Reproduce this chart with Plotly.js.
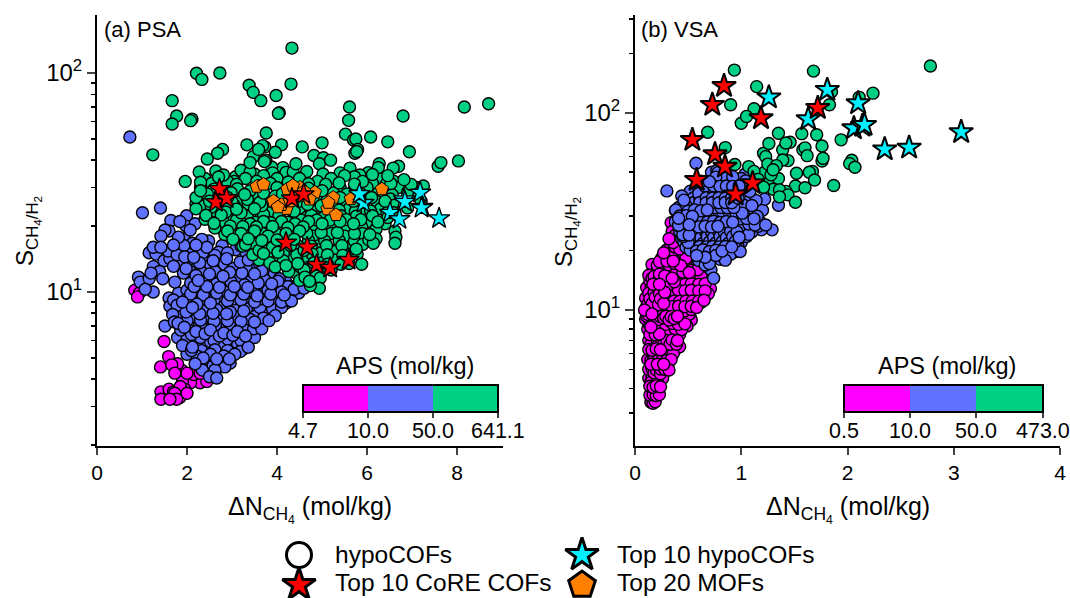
<!DOCTYPE html>
<html><head><meta charset="utf-8">
<script src="https://cdn.plot.ly/plotly-3.0.1.min.js"></script>
<style>html,body{margin:0;padding:0;background:#fff}#c{width:1070px;height:598px}</style>
</head><body><div id="c"></div>
<script>
const psaMagenta=[[0.84,10.2],[0.94,9.9],[0.9,9.5],[1.49,5.94],[1.59,5.07],[1.41,4.55],[1.79,4.7],[1.66,4.65],[2.0,4.26],[1.73,4.26],[2.29,4.26],[2.29,3.85],[2.08,3.85],[1.9,3.9],[2.44,3.9],[1.42,3.5],[1.42,3.24],[1.7,3.5],[1.73,3.45],[2.0,3.45],[1.77,3.24],[1.62,3.24],[1.84,3.3],[1.66,3.3],[1.88,4.4],[2.15,4.2],[1.95,3.6],[1.6,3.6],[1.85,3.7]];
const psaBlue=[[0.73,51],[1.01,23],[1.41,24.2],[1.64,21.2],[1.51,19.2],[1.99,22.3],[1.84,21],[2.18,20.5],[2.07,19.2],[1.81,17.8],[1.7,16.4],[1.16,15.1],[1.31,14.9],[1.49,13.9],[1.25,13.06],[1.39,12.4],[0.92,11.7],[0.96,11.1],[1.16,11.5],[1.25,10],[1.07,10.3],[1.73,11.1],[1.81,9.9],[1.62,8.6],[1.51,7],[1.95,17.5],[1.85,15.8],[2.05,15.2],[1.62,14.2],[1.88,13.6],[1.98,12.8],[1.7,13.1],
[2.2,16.4],[2.48,17.1],[2.78,16.3],[3.08,15.6],[3.32,14.9],[2.35,15.1],[2.62,14.7],
[2.02,14],[2.28,13.6],[2.58,13.9],[2.88,14.2],[3.18,13.7],[3.5,13.3],[2.14,12.9],[2.42,12.6],[2.72,13],[3.02,12.8],[3.33,12.6],[3.66,12.5],
[1.92,12.2],[2.2,11.9],[2.5,12.1],[2.8,11.8],[3.1,11.9],[3.42,11.7],[3.72,11.9],[3.94,12.1],
[2.08,11],[2.38,11.2],[2.66,10.9],[2.98,11.1],[3.28,10.8],[3.58,11],[3.88,10.9],[4.2,11.1],
[2,10.2],[2.3,10.1],[2.58,10.4],[2.9,10],[3.2,10.3],[3.5,10],[3.8,10.2],[4.1,10],[4.38,10.3],[4.6,10.4],
[2.14,9.5],[2.44,9.4],[2.74,9.6],[3.04,9.3],[3.34,9.5],[3.64,9.3],[3.94,9.4],[4.25,9.5],
[1.9,9],[2.22,8.8],[2.52,8.9],[2.82,8.7],[3.12,8.9],[3.42,8.7],[3.72,8.9],[4.02,8.7],[4.2,8.9],
[2.06,8.3],[2.36,8.2],[2.66,8.3],[2.96,8.1],[3.26,8.2],[3.56,8],[3.86,8.2],
[1.88,7.8],[2.18,7.7],[2.5,7.8],[2.8,7.6],[3.1,7.7],[3.4,7.5],[3.7,7.6],[3.96,7.8],
[1.8,7.2],[2.08,7.1],[2.38,7.2],[2.68,7],[2.98,7.1],[3.28,7],[3.58,7.2],
[1.86,6.7],[2.2,6.6],[2.52,6.7],[2.82,6.5],[3.12,6.6],[3.42,6.5],[3.5,6.2],
[1.79,6.2],[2,6.1],[2.3,6.2],[2.6,6],[2.9,6.1],[3.2,6],[3.36,5.6],
[1.9,5.7],[2.12,5.6],[2.42,5.7],[2.72,5.5],[3.02,5.6],[3.26,5.5],
[2,5.2],[2.22,5.1],[2.52,5.2],[2.82,5.1],[3.06,5.2],[2.1,5.4],
[2.18,4.7],[2.46,4.8],[2.72,4.7],[2.96,4.74],[2.34,4.4],[2.62,4.4],[2.5,4.1],[2.66,4.05],
[2.9,15.1],[3.2,16.2],[2.44,16],[3.36,14],[3.84,12.4],[4.3,10.6],[4.5,10.5],[4.05,11.5],[3.6,13.6]];
const psaBlueMore=[[2.12,16.7],[1.93,16.3],[2.33,17.4],[1.78,14.8],[1.95,14.5],[2.15,14.4],[2.4,14.6],[2.7,15.2],[2.52,13.3],[2.83,13.4],[2.32,12.3],[2.07,12.4],[2.62,12.4],[2.95,12.3],[3.22,12.2],[3.5,12.1],[2.25,11.3],[2.52,11.5],[2.82,11.4],[3.12,11.4],[3.42,11.3],[3.74,11.3],[4.02,11.2],[2.16,10.6],[2.44,10.6],[2.72,10.5],[3.05,10.6],[3.35,10.5],[3.64,10.6],[3.95,10.5],[4.24,10.6],[2.08,9.8],[2.36,9.7],[2.66,9.9],[2.96,9.7],[3.26,9.8],[3.56,9.6],[3.86,9.8],[4.16,9.7],[4.48,9.9],[2,9.3],[2.32,9.2],[2.6,9.2],[2.9,9.1],[3.2,9.2],[3.5,9],[3.8,9.1],[4.1,9],[4.32,9.1],[2.12,8.5],[2.42,8.6],[2.72,8.5],[3.02,8.5],[3.32,8.4],[3.62,8.5],[3.9,8.4],[4.1,8.5],[1.98,8.1],[2.28,7.95],[2.58,8],[2.88,7.95],[3.18,8],[3.48,7.85],[3.78,7.9],[2,7.4],[2.3,7.45],[2.6,7.35],[2.9,7.4],[3.2,7.35],[3.5,7.3],[3.82,7.4],[1.94,6.9],[2.26,6.9],[2.56,6.95],[2.88,6.85],[3.18,6.85],[3.48,6.8],[3.66,6.8],[2.1,6.4],[2.4,6.45],[2.72,6.3],[3.02,6.35],[3.3,6.3],[2.2,5.85],[2.52,5.95],[2.82,5.8],[3.12,5.85],[2.32,5.4],[2.62,5.45],[2.9,5.4],[3.18,5.35],[2.36,5],[2.66,4.95],[2.94,4.95],[2.3,4.55],[2.58,4.6],[2.84,4.55],
[1.6,19],[1.42,18],[1.98,20],[1.25,16],[1.58,15.4],[1.42,16],[1.2,12.2],[1.46,11.5],[1.6,9.4],[1.7,9.2],[1.78,8.7],[1.68,7.9],[1.72,7.3]];
const psaGreen=[[4.33,130],[2.21,99.8],[2.33,93.5],[2.73,100],[4.31,89],[3.38,88],[3.47,81.6],[3.64,74.8],[3.98,79],[4.05,65.9],[4.03,65.4],[1.67,74.8],[1.77,63.6],[1.67,58.5],[2.11,61.6],[2.08,60.6],[8.16,70],[8.7,72.4],[5.61,70],[5.59,60.8],[6.8,63.6],[3.76,53.2],[5.52,52.6],[5.7,49.4],[5.75,50],[6.08,51],[6.46,48.5],[6.94,43.7],[5.79,44.8],[5.73,43],[5.77,43.8],[3.33,47],[3.59,44.8],[3.73,46],[3.68,46.6],[4.1,47],[4.56,46],[5,48],[2.79,44.8],[2.68,43],[2.45,40.5],[1.24,42.3],[8.03,39.7],[7.64,39],[7.58,37.5],[4.82,42],[5.03,41],[4.94,38.5],[5.19,40],[3.47,41.5],[3.96,43.5],[3.4,39],[3.75,40],[3.72,39.4],[4.42,38.5],[4.13,37],[3.88,37.2],[6.27,38.5],[6.25,37],[6.7,37.5],[6.58,36.8],[5.62,36.8],[5.4,35],[2.27,35.3],[2.64,35.7],[2.81,34.2],[1.96,32],[3.05,32],[3.2,36],[3.4,35.3],[4.36,35.3],[6.03,35.1],[5.84,34.2],[6.53,31.3],[6.98,31],[7.25,30.5],[2.3,29],[2.2,25.3],
[2.4,33],[2.9,32],[3.3,33],[3.7,34],[4,33],[4.5,33],[4.9,32],[5.2,33],[5.5,34],[5.9,32],[6.3,33],[6.6,32],
[2.55,31.4],[3.1,31],[3.55,32],[3.85,31.4],[4.25,31.8],[4.7,31.2],[5.08,31],[5.38,31.5],[5.72,31.1],[6.12,31.3],[6.42,31],
[2.3,30],[2.6,29.5],[3.12,29.6],[3.4,29],[3.6,30.6],[4,30],[4.3,29],[4.7,29.8],[5,29],[5.4,30],[5.7,29],[6,30],[6.4,29],[6.7,30],[7,28],
[2.45,28],[2.98,28.4],[3.28,27.9],[3.7,28.3],[4.12,28.1],[4.52,28.3],[4.88,27.8],[5.25,28.4],[5.55,28],[5.88,27.9],[6.24,28.2],[6.56,27.8],[6.9,28.6],
[2.2,27],[2.5,26],[2.9,27],[3.2,26],[3.5,27],[3.8,26],[4.1,27],[4.5,26],[4.8,27],[5.1,26],[5.4,27],[5.7,26],[6.1,27],[6.4,26],[6.8,25.6],[7.2,26],
[2.42,25],[2.74,25],[3.05,24.9],[3.36,25.3],[3.66,24.8],[3.98,25.1],[4.34,24.8],[4.68,25.1],[4.98,24.8],[5.3,25],[5.6,24.7],[5.92,25],[6.24,24.7],[6.56,24.8],[6.9,24.2],
[2.2,24],[2.6,23.5],[2.9,24],[3.2,23],[3.5,24],[3.9,23.5],[4.2,24],[4.6,23],[4.9,24],[5.2,23],[5.6,24],[5.9,23],[6.3,24],[6.6,23],
[2.42,22.4],[2.76,22.5],[3.05,22.3],[3.34,22.1],[3.7,22.6],[4.04,22.3],[4.38,22.2],[4.76,22.4],[5.06,22.1],[5.42,22.3],[5.76,22.2],[6.12,22.3],[6.46,21.9],
[2.4,21.5],[2.8,21],[3.1,21.3],[3.4,20.5],[3.7,21],[4.1,21],[4.4,20.5],[4.7,21],[5,20.5],[5.4,21],[5.7,20.5],[6,21],[6.4,20.5],[6.62,19],[6.64,17.8],
[2.62,19.6],[2.96,20],[3.24,19.9],[3.54,19.8],[3.9,19.9],[4.24,19.7],[4.58,19.8],[4.86,19.6],[5.2,19.8],[5.54,19.6],[5.88,19.8],[6.2,19.4],
[2.9,19],[3.2,18.5],[3.5,19],[3.8,18],[4.2,18.5],[4.5,19],[4.8,18],[5.2,18.5],[5.5,18],[5.9,18.5],[6.2,17.5],[6.62,16.7],
[3.02,17.4],[3.36,17.5],[3.66,17.2],[4,17.3],[4.38,17.4],[4.7,17.2],[5.06,17.1],[5.38,17.2],[5.72,17.1],[6.04,17.3],[6.14,16.7],
[3.3,16.5],[3.6,15.5],[3.9,16],[4.3,16.3],[4.6,15.5],[4.9,16.2],[5.3,15.5],[5.6,16],[5.9,16.5],
[3.46,14.8],[3.78,14.9],[4.14,15],[4.44,14.8],[4.78,14.9],[5.12,14.8],[5.46,14.7],[5.78,14.9],
[3.6,14],[4,14.3],[4.3,14],[4.7,14.3],[5,13.6],[5.3,14],[5.6,13.5],[5.88,13.4],
[3.96,13],[4.2,13.2],[4.4,12.3],[4.7,12],[5,12.4],[4.6,12.6],[4.5,11.3],[4.9,11],[4.94,10.4],[4.72,11.2],[5.14,12.9]];
const psaGreenMore=[[2.3,31.7],[2.7,33.5],[3.08,33.6],[3.5,34.6],[3.9,35],[4.2,35.2],[4.66,35.5],[5.02,34.6],[5.35,32.5],[5.72,33.6],[6.12,34.4],[6.46,34],[6.82,32.6],[7.1,30],[2.34,27.9],[2.7,28.3],[2.35,24.6],[2.78,26.2],[3,25.8],[3.34,26.5],[3.62,25.7],[3.96,27.4],[4.3,27.8],[4.38,23.4],[4.66,27.2],[4.98,27.3],[5.25,25.2],[5.52,25.6],[5.85,26.6],[6.22,25.9],[6.52,26.6],[6.6,24.9],[2.54,24.4],[2.86,23.2],[3.1,23.9],[3.38,23.3],[3.64,23],[4.06,23.2],[4.5,24.2],[4.76,23.7],[5.06,23.2],[5.38,23.7],[5.74,23.3],[6.08,23.4],[6.44,23],[2.6,20.6],[2.92,21.8],[3.22,20.5],[3.52,20.8],[3.86,20.7],[4.24,20.8],[4.54,21.3],[4.88,21.3],[5.18,21.3],[5.54,21.4],[5.86,21.4],[6.24,20.9],[2.84,18.3],[3.08,18.4],[3.36,18.2],[3.66,18.6],[4.02,18.3],[4.32,18.9],[4.66,18.5],[4.98,18.7],[5.34,18.7],[5.72,18.5],[6.06,18.3],[3.24,16.2],[3.5,16.6],[3.78,16.5],[4.12,16.2],[4.44,16.4],[4.76,16.2],[5.1,16.3],[5.44,16.3],[5.76,15.7],[3.7,15],[4.02,15.2],[4.28,15.3],[4.64,15],[4.98,15.1],[5.28,15.3],[5.54,15],[3.84,13.6],[4.14,13.9],[4.46,13.5],[4.82,13.6],[5.12,13.4],[5.42,13.4],[4.26,12.4],[4.52,13],[4.84,12.5],[5.2,12.6],[4.62,11.7],[4.96,11.6],[4.74,10.7]];
const psaCore=[[2.72,29.5],[2.64,25.7],[2.88,26.8],[4.33,26.7],[4.59,27.9],[4.2,16.8],[4.67,16],[4.88,13.3],[5.18,12.9],[5.59,14]];
const psaHypo=[[5.92,25.5],[5.83,28],[7.18,28.4],[6.82,26.5],[7.23,24.5],[6.51,23],[6.72,21.5],[7.6,21.7],[7.21,24.2],[6.84,25.8]];
const psaMof=[[3.55,30.3],[3.7,31],[4.23,29.5],[4.51,30],[4.84,28.5],[5.25,27],[5.64,26.6],[6.33,29.5],[3.92,26],[4.21,24],[4.1,25],[5.12,23.9],[5.31,22.5],[4.5,27.6],[4.29,26],[4.6,28.8],[4.35,30.6],[5.14,25.6],[4.02,24.4],[4.72,26.5]];

const vsaMagenta=[[0.15,3.4],[0.17,3.36],[0.19,3.42],[0.14,3.7],[0.17,3.72],[0.2,3.68],[0.23,3.72],[0.14,4.1],[0.17,4.05],[0.2,4.12],[0.24,4.08],[0.13,4.5],[0.16,4.55],[0.19,4.48],[0.22,4.52],[0.26,4.5],[0.13,5],[0.16,5.05],[0.2,4.96],[0.24,5.02],[0.28,5],[0.32,4.96],[0.12,5.6],[0.15,5.55],[0.18,5.62],[0.22,5.58],[0.26,5.62],[0.3,5.55],[0.34,5.6],[0.13,6.3],[0.16,6.25],[0.2,6.35],[0.24,6.28],[0.28,6.32],[0.33,6.25],[0.38,6.3],[0.42,6.5],[0.13,7],[0.17,7.05],[0.21,6.95],[0.25,7.08],[0.3,7],[0.35,7.05],[0.4,7],[0.12,8],[0.16,7.9],[0.2,8.05],[0.24,7.95],[0.28,8.05],[0.33,7.92],[0.38,8],[0.44,7.95],[0.14,7.5],[0.19,7.5],[0.23,7.55],[0.27,7.45],[0.32,7.55],[0.37,7.48],[0.42,7.5],[0.1,9],[0.14,8.9],[0.18,9.05],[0.22,8.95],[0.27,9.1],[0.32,8.9],[0.37,9.05],[0.42,8.95],[0.48,9],[0.53,8.9],[0.13,8.5],[0.18,8.45],[0.23,8.55],[0.29,8.45],[0.35,8.55],[0.41,8.45],[0.47,8.5],
[0.09,10],[0.13,10.1],[0.17,9.9],[0.21,10.15],[0.26,9.9],[0.31,10.1],[0.36,9.95],[0.41,10.1],[0.47,9.9],[0.53,10.05],[0.12,9.5],[0.16,9.55],[0.2,9.45],[0.25,9.55],[0.3,9.45],[0.35,9.55],[0.4,9.5],[0.45,9.45],[0.51,9.5],[0.1,11.5],[0.14,11.4],[0.19,11.6],[0.24,11.4],[0.29,11.6],[0.34,11.4],[0.39,11.6],[0.45,11.4],[0.51,11.6],[0.58,11.4],[0.66,11.7],[0.12,10.7],[0.16,10.8],[0.22,10.65],[0.27,10.8],[0.33,10.7],[0.38,10.85],[0.44,10.7],[0.5,10.85],[0.56,10.7],[0.62,10.9],
[0.11,13],[0.15,12.8],[0.2,13.1],[0.25,12.9],[0.3,13.2],[0.35,12.9],[0.4,13.1],[0.46,12.9],[0.52,13.1],[0.58,12.9],[0.65,13],[0.71,12.8],[0.13,12.2],[0.18,12.3],[0.23,12.1],[0.28,12.3],[0.33,12.2],[0.38,12.3],[0.43,12.1],[0.49,12.3],[0.55,12.1],[0.62,12.2],[0.69,12.1],
[0.13,15],[0.18,14.8],[0.23,15.2],[0.28,14.9],[0.33,15.2],[0.38,14.9],[0.44,15.1],[0.5,14.8],[0.56,15.1],[0.62,14.9],[0.14,14],[0.2,14.1],[0.26,13.9],[0.32,14.1],[0.37,13.9],[0.43,14.1],[0.49,13.9],[0.55,14.1],[0.62,13.9],[0.68,14],
[0.16,17],[0.21,16.8],[0.27,17.2],[0.32,16.9],[0.37,17.2],[0.43,16.8],[0.49,17.1],[0.55,16.9],[0.17,16],[0.24,16.1],[0.3,15.9],[0.35,16.1],[0.41,15.9],[0.47,16.1],[0.53,15.9],[0.59,16],[0.27,19.5],[0.33,19.2],[0.38,19.6],[0.44,19.3],[0.25,18.3],[0.3,18.2],[0.36,18.4],[0.42,18.2],[0.48,18.3],[0.34,21],[0.38,20.8],[0.36,22],[0.42,22],[0.34,27.7],[0.38,24]];
const vsaMagentaMore=[[0.18,3.9],[0.15,4.3],[0.21,4.3],[0.18,4.8],[0.24,4.75],[0.15,5.3],[0.21,5.3],[0.27,5.3],[0.31,5.25],[0.17,5.9],[0.24,5.95],[0.31,5.95],[0.36,6],[0.15,6.7],[0.22,6.65],[0.27,6.7],[0.33,6.7],[0.39,6.7],[0.15,8.2],[0.22,8.25],[0.3,8.2],[0.36,8.25],[0.43,8.2],[0.49,8.3],[0.11,9.3],[0.16,9.25],[0.24,9.25],[0.29,9.3],[0.34,9.25],[0.4,9.3],[0.46,9.25],[0.52,9.2],[0.11,10.4],[0.19,10.45],[0.24,10.4],[0.29,10.45],[0.35,10.4],[0.41,10.45],[0.47,10.4],[0.53,10.45],[0.58,10.3],[0.12,11.1],[0.17,11],[0.21,11.1],[0.27,11.1],[0.32,11],[0.37,11.1],[0.42,11.05],[0.48,11.1],[0.54,11.1],[0.6,11.1],[0.65,11.2],[0.16,12.6],[0.22,12.6],[0.27,12.6],[0.35,12.5],[0.41,12.6],[0.47,12.5],[0.53,12.6],[0.6,12.5],[0.66,12.5],[0.17,13.5],[0.23,13.5],[0.29,13.6],[0.35,13.5],[0.41,13.6],[0.47,13.5],[0.53,13.6],[0.6,13.5],[0.66,13.6],[0.16,14.5],[0.23,14.5],[0.29,14.5],[0.35,14.5],[0.41,14.5],[0.47,14.5],[0.53,14.5],[0.59,14.5],[0.65,14.4],[0.2,15.6],[0.27,15.5],[0.33,15.6],[0.39,15.5],[0.45,15.6],[0.51,15.5],[0.57,15.5],[0.2,16.5],[0.26,16.5],[0.33,16.5],[0.39,16.5],[0.45,16.5],[0.51,16.5],[0.57,16.4],[0.23,17.6],[0.3,17.7],[0.36,17.7],[0.42,17.6],[0.48,17.7],[0.54,17.5],[0.28,18.8],[0.35,18.9],[0.41,18.8],[0.47,18.8],[0.3,20.2],[0.36,20],[0.42,20.4],[0.32,23],[0.38,22.8],[0.35,25]];
const vsaBlue=[[0.574,55.5],[0.3,40.2],[0.77,51],[1.035,48.8],[0.44,37.9],[0.6,39],[0.486,33.4],[0.383,32.2],[1.35,34],[1.22,36.5],[1.23,27],[1.29,25.5],[1.19,25.5],[0.97,21],[0.99,19.8],[0.85,17.9],[0.715,16],[0.74,14.5],[0.5,22],[0.455,23.6],[0.48,25],[0.66,18.5],
[0.6,17.8],[0.66,18],[0.72,18.3],[0.8,18.1],[0.69,16.4],[0.52,20.1],[0.58,19.9],[0.64,20.2],[0.7,19.8],[0.76,20.1],[0.82,19.9],[0.88,20.2],[0.96,19.8],[0.46,22.1],[0.52,21.9],[0.58,22.2],[0.64,21.8],[0.7,22.1],[0.76,21.9],[0.82,22.2],[0.88,21.8],[0.94,22.1],[1,22],
[0.42,25.1],[0.48,24.8],[0.54,25.2],[0.6,24.8],[0.66,25.1],[0.72,24.9],[0.78,25.2],[0.84,24.8],[0.9,25.1],[0.96,24.9],[1.02,25.2],[1.1,24.9],[0.5,23.4],[0.56,23.5],[0.62,23.3],[0.68,23.6],[0.74,23.4],[0.8,23.5],[0.86,23.3],[0.92,23.6],[0.98,23.4],[1.05,23.6],
[0.38,28.1],[0.44,27.8],[0.5,28.2],[0.56,27.8],[0.62,28.1],[0.68,27.9],[0.74,28.2],[0.8,27.8],[0.86,28.1],[0.92,27.9],[0.98,28.2],[1.04,27.8],[1.1,28.1],[1.18,27.9],[0.42,26.5],[0.48,26.4],[0.54,26.6],[0.6,26.4],[0.66,26.6],[0.72,26.4],[0.78,26.6],[0.84,26.5],[0.92,26.4],[1,26.6],[1.08,26.4],[1.16,26.6],
[0.38,32],[0.44,32.3],[0.5,31.8],[0.56,32.2],[0.62,31.9],[0.68,32.2],[0.74,31.8],[0.8,32.1],[0.86,31.9],[0.92,32.2],[0.98,31.8],[1.04,32.1],[1.12,31.9],[1.2,32.1],[0.42,30],[0.48,30.1],[0.54,29.9],[0.6,30.2],[0.66,29.9],[0.72,30.1],[0.78,29.9],[0.84,30.2],[0.9,29.9],[0.96,30.1],[1.02,29.9],[1.08,30.1],[1.15,29.9],
[0.46,36.1],[0.52,35.8],[0.58,36.2],[0.64,35.8],[0.7,36.1],[0.76,35.9],[0.82,36.2],[0.88,35.8],[0.94,36.1],[1,35.9],[1.06,36.2],[1.14,35.9],[0.46,34],[0.54,34.1],[0.6,33.9],[0.66,34.2],[0.72,33.9],[0.78,34.1],[0.84,33.9],[0.9,34.2],[0.96,33.9],[1.02,34.1],[1.1,33.9],[1.18,34.1],
[0.52,40.1],[0.6,39.8],[0.66,40.2],[0.72,39.8],[0.78,40.1],[0.84,39.9],[0.9,40.2],[0.96,39.8],[1.02,40.1],[1.08,39.9],[0.56,38],[0.64,38.1],[0.7,37.9],[0.76,38.2],[0.82,37.9],[0.88,38.1],[0.94,37.9],[1,38.1],[1.06,37.9],
[0.62,45],[0.7,44.8],[0.76,45.2],[0.82,44.8],[0.9,45.1],[0.98,44.9],[1.04,45.2],[0.66,42.5],[0.74,42.6],[0.8,42.4],[0.86,42.6],[0.92,42.4],[0.98,42.6],[1.04,42.4],[0.72,50],[0.78,49.8],[1,46.5],[0.84,47],[0.76,47.2],[0.92,47.5]];
const vsaGreen=[[0.935,165],[1.68,163],[2.78,173],[1.145,136],[2.24,126],[0.9,110],[2.11,120],[1.83,110],[1.85,128],[1.12,105],[1.05,96],[1,88.7],[0.684,79.8],[0.85,66.7],[1.35,78.9],[1.57,78.5],[1.71,77.5],[1.46,71],[1.42,70.4],[1.26,70],[1.94,73],[1.76,68],[1.58,65],[1.6,66.5],[1.62,60.7],[1.77,58.9],[1.21,62.4],[1.23,60],[1.39,65],[1.44,57.3],[1.39,57.7],[1.25,55],[1.33,54],[1.76,57],[2.04,57.5],[2.02,55.3],[2.07,53],[1.07,53.4],[0.94,54.7],[1.52,49.4],[1.67,50.5],[1.64,50],[1.69,45.7],[1.28,48.5],[1.25,44.3],[1.51,42.6],[1.6,41.7],[1.87,42.8],[1.36,40.7],[1.44,38.4],[1.36,37.5],[1.51,35.2],[1.16,46],[1.21,42],[1.3,51.5],[1.22,50],[1.35,46.5],[1.42,40],[1.3,41],[1.12,50.5]];
const vsaBlueMore=[[0.66,16.9],[0.7,17.2],[0.76,18.9],[0.58,18.9],[0.64,19],[0.85,19.1],[0.9,19.2],[0.48,20.8],[0.55,20.9],[0.61,21],[0.67,20.9],[0.73,21],[0.79,20.9],[0.85,21],[0.91,20.9],[0.44,22.9],[0.55,22.7],[0.61,22.9],[0.67,22.8],[0.73,22.7],[0.79,22.8],[0.85,22.7],[0.91,22.8],[0.97,22.9],[0.45,24.1],[0.51,24],[0.57,24.1],[0.63,24],[0.69,24.2],[0.75,24],[0.81,24.1],[0.87,24],[0.93,24.2],[0.99,24],[1.07,24.2],[0.41,26.9],[0.51,27.1],[0.57,27.2],[0.63,27],[0.69,27.2],[0.75,27],[0.81,27.2],[0.89,27.1],[0.95,27.2],[1.01,27],[1.07,27.3],[1.13,27],[0.41,29.2],[0.47,29],[0.53,29.1],[0.59,29],[0.65,29.1],[0.71,29],[0.77,29.1],[0.83,29],[0.89,29.1],[0.99,29],[1.05,29.1],[1.12,29],[0.41,31],[0.47,31.1],[0.53,31],[0.59,31.1],[0.65,31],[0.71,31.1],[0.77,31],[0.83,31.1],[0.89,31],[0.95,31.1],[1.01,31],[1.08,31.1],[1.16,31],[0.41,33.1],[0.51,33],[0.57,33.1],[0.63,33],[0.69,33.1],[0.75,33],[0.81,33.1],[0.87,33],[0.93,33.1],[0.99,33],[1.06,33.1],[1.14,33],[0.49,35],[0.55,35],[0.61,35.1],[0.67,35],[0.73,35.1],[0.79,35],[0.85,35.1],[0.91,35],[0.97,35.1],[1.03,35],[1.1,35.1],[0.55,37],[0.61,37],[0.67,37.1],[0.73,37],[0.79,37.1],[0.85,37],[0.91,37.1],[0.97,37],[1.03,37.1],[1.1,37]];
const vsaCore=[[0.838,137],[0.728,110],[1.186,94],[1.72,106],[0.54,73],[0.753,61.7],[0.847,53.4],[0.58,45.7],[1.107,44],[0.947,38.6]];
const vsaHypo=[[1.26,120],[1.81,131],[2.1,112],[1.63,93],[2.06,83.6],[2.14,86],[2.16,87],[3.07,80],[2.35,65.4],[2.58,66.7]];

const xTicksA=[0,2,4,6,8], xTicksB=[0,1,2,3,4];
const yTicksA=[10,100], yLabels=['10<sup>1</sup>','10<sup>2</sup>'];
const yMinor=[2,3,4,5,6,7,8,9,20,30,40,50,60,70,80,90,200,300];
const apsLabelsA=['4.7','10.0','50.0','641.1'], apsLabelsB=['0.5','10.0','50.0','473.0'];
const legendNames=['hypoCOFs','Top 10 CoRE COFs','Top 10 hypoCOFs','Top 20 MOFs'];
const legendHypo=[[299,555]],legendCore=[[299,585]],legendTopHypo=[[582,555]],legendMof=[[582,585]];
const cMag='#ff00ff',cBlue='#6072ff',cGreen='#00d084',cRed='#ff0000',cCyan='#00f0ff',cOrange='#ff8000';
const W=1070,H=598;
const font='"Liberation Sans",Arial,sans-serif';

// drawing order only: the hand-read rows are interleaved so that overlaps are not row by row
function interleave(d){const out=[];for(let k=0;k<11;k++)for(let i=k;i<d.length;i+=11)out.push(d[i]);return out;}
function circles(d0,c,xa,ya){const d=interleave(d0);return {type:'scatter',mode:'markers',x:d.map(p=>p[0]),y:d.map(p=>p[1]),xaxis:xa,yaxis:ya,
  marker:{symbol:'circle',size:12,color:c,line:{color:'#000',width:1.4}},hoverinfo:'skip',cliponaxis:false};}
function sym(d,s,c,sz,lw,xa,ya){return {type:'scatter',mode:'markers',x:d.map(p=>p[0]),y:d.map(p=>p[1]),xaxis:xa,yaxis:ya,
  marker:{symbol:s,size:sz,color:c,line:{color:'#000',width:lw}},hoverinfo:'skip',cliponaxis:false};}
const traces=[
 circles(psaMagenta,cMag,'x','y'),circles(psaBlue.concat(psaBlueMore),cBlue,'x','y'),circles(psaGreen.concat(psaGreenMore),cGreen,'x','y'),
 sym(psaMof,'pentagon',cOrange,14,1.0,'x','y'),sym(psaHypo,'star',cCyan,16,1.4,'x','y'),sym(psaCore,'star',cRed,16,1.4,'x','y'),
 circles(vsaMagenta.concat(vsaMagentaMore),cMag,'x2','y2'),circles(vsaBlue.concat(vsaBlueMore),cBlue,'x2','y2'),circles(vsaGreen,cGreen,'x2','y2'),
 sym(vsaHypo,'star',cCyan,18,2,'x2','y2'),sym(vsaCore,'star',cRed,18,2,'x2','y2'),
 sym(legendHypo,'circle','#fff',25,3,'x3','y3'),sym(legendCore,'star',cRed,25,3,'x3','y3'),
 sym(legendTopHypo,'star',cCyan,25,3,'x3','y3'),sym(legendMof,'pentagon',cOrange,28,3,'x3','y3')
];
const tf={family:font,size:21,color:'#000'};
function xax(l,r,rng,t){return {domain:[l/W,r/W],range:rng,tickmode:'array',tickvals:t,ticks:'outside',ticklen:7,tickwidth:2,showline:true,linewidth:2,linecolor:'#000',showgrid:false,zeroline:false,tickfont:tf};}
function yax(rng,anc){return {domain:[1-446/H,1-15/H],type:'log',range:rng,anchor:anc,tickmode:'array',tickvals:yTicksA,ticktext:yLabels,ticks:'outside',ticklen:8,tickwidth:2,showline:true,linewidth:2,linecolor:'#000',showgrid:false,zeroline:false,tickfont:{family:font,size:24,color:'#000'},
  minor:{tickmode:'array',tickvals:yMinor,ticks:'outside',ticklen:4,tickwidth:1.5,tickcolor:'#000',showgrid:false}};}
const layout={width:W,height:H,margin:{l:0,r:0,t:0,b:0},paper_bgcolor:'#fff',plot_bgcolor:'rgba(0,0,0,0)',showlegend:false,
 xaxis:Object.assign(xax(97,503,[0,9.02],xTicksA),{anchor:'y'}),yaxis:yax([0.2968,2.265],'x'),
 xaxis2:Object.assign(xax(635,1060,[0,4],xTicksB),{anchor:'y2'}),yaxis2:yax([0.3096,2.497],'x2'),
 xaxis3:{domain:[0,1],range:[0,W],visible:false,anchor:'y3',fixedrange:true},
 yaxis3:{domain:[0,1],range:[H,0],visible:false,anchor:'x3',fixedrange:true},
 shapes:[],annotations:[]};
function ann(x,y,text,size,xa,rot){layout.annotations.push({xref:'paper',yref:'paper',x:x/W,y:1-y/H,text:text,showarrow:false,xanchor:xa||'center',yanchor:'middle',textangle:rot||0,font:{family:font,size:size,color:'#000'}});}
function rect(x0,x1,y0,y1,fill,lw){layout.shapes.push({type:'rect',xref:'paper',yref:'paper',x0:x0/W,x1:x1/W,y0:1-y0/H,y1:1-y1/H,fillcolor:fill,line:{color:'#000',width:lw}});}
function vtick(x){layout.shapes.push({type:'line',xref:'paper',yref:'paper',x0:x/W,x1:x/W,y0:1-412/H,y1:1-418/H,line:{color:'#000',width:1.5}});}
function apsBar(xs,labels,tx){
 rect(xs[0],xs[1],385,412,cMag,0);rect(xs[1],xs[2],385,412,cBlue,0);rect(xs[2],xs[3],385,412,cGreen,0);
 rect(xs[0],xs[3],385,412,'rgba(0,0,0,0)',2);
 xs.forEach((x,i)=>{vtick(x);ann(x,431,labels[i],21.5);});
 ann(tx,366,'APS (mol/kg)',23.5);
}
apsBar([303,368,433,498],apsLabelsA,405);
apsBar([844,910,976,1043],apsLabelsB,947);
ann(102,30,'(a) PSA',22,'left');ann(639,30,'(b) VSA',22,'left');
ann(310,509,'ΔN<sub>CH<sub>4</sub></sub> (mol/kg)',25);
ann(848,509,'ΔN<sub>CH<sub>4</sub></sub> (mol/kg)',25);
ann(27,231,'S<sub>CH<sub>4</sub>/H<sub>2</sub></sub>',24,'center',-90);
ann(567,232,'S<sub>CH<sub>4</sub>/H<sub>2</sub></sub>',24,'center',-90);
ann(333,554,legendNames[0],24.5,'left');ann(333,582,legendNames[1],24.5,'left');
ann(615,554,legendNames[2],24.5,'left');ann(615,582,legendNames[3],24.5,'left');
Plotly.newPlot('c',traces,layout,{staticPlot:true,displayModeBar:false});
</script></body></html>
